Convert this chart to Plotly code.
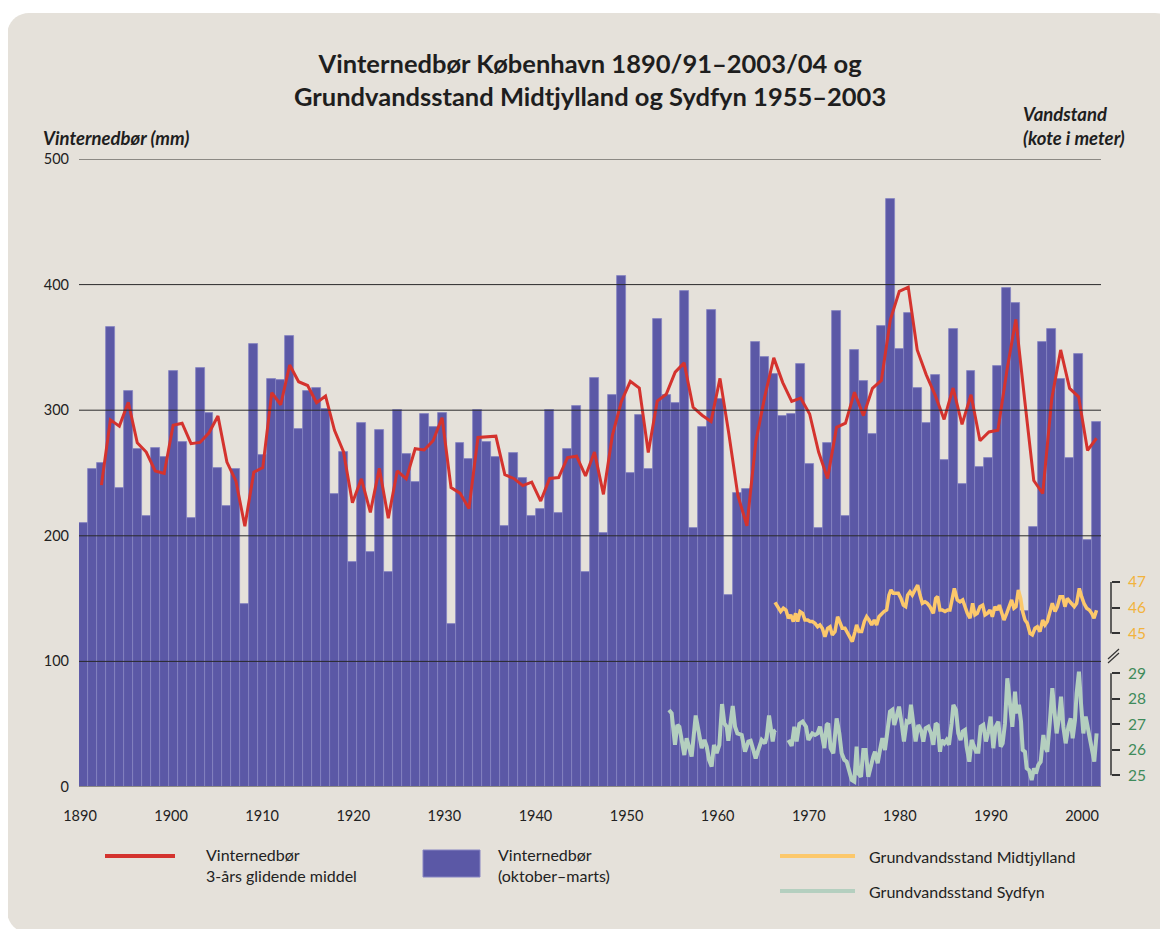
import plotly.graph_objects as go
import pandas as pd

# ---------------- data ----------------
years = list(range(1890, 2004))
precip_mm = [
    210, 253, 258, 366, 238, 315, 269, 216, 270, 263,   # 1890-1899
    331, 275, 214, 334, 298, 254, 224, 253, 146, 353,   # 1900-1909
    264, 325, 324, 359, 285, 315, 318, 301, 233, 267,   # 1910-1919
    179, 290, 187, 284, 171, 300, 265, 243, 297, 287,   # 1920-1929
    298, 130, 274, 261, 300, 275, 263, 208, 266, 246,   # 1930-1939
    216, 221, 300, 218, 269, 303, 171, 326, 202, 312,   # 1940-1949
    407, 250, 296, 253, 373, 312, 306, 395, 206, 287,   # 1950-1959
    380, 309, 153, 234, 237, 354, 342, 329, 295, 297,   # 1960-1969
    337, 257, 206, 274, 379, 216, 348, 323, 281, 367,   # 1970-1979
    468, 349, 377, 318, 290, 328, 260, 365, 241, 331,   # 1980-1989
    255, 262, 335, 397, 385, 140, 207, 354, 365, 325,   # 1990-1999
    262, 345, 197, 291,                                 # 2000-2003
]

x_ticks = list(range(1890, 2001, 10))
y_ticks = [0, 100, 200, 300, 400, 500]
mid_ticks = [45, 46, 47]
syd_ticks = [25, 26, 27, 28, 29]

mid_t = [1967.64, 1968.01, 1968.27, 1968.57, 1968.86, 1969.13, 1969.39, 1969.68, 1969.94, 1970.17,
         1970.43, 1970.72, 1970.98, 1971.28, 1971.54, 1971.80, 1972.10, 1972.39, 1972.65, 1972.91,
         1973.21, 1973.51, 1973.77, 1974.03, 1974.33, 1974.62, 1974.88, 1975.14, 1975.44, 1975.74,
         1976.00, 1976.26, 1976.56, 1976.74, 1977.00, 1977.30, 1977.60, 1977.86, 1978.12, 1978.42,
         1978.71, 1978.97, 1979.23, 1979.53, 1979.79, 1980.09, 1980.35, 1980.57, 1980.83, 1981.09,
         1981.39, 1981.69, 1981.95, 1982.21, 1982.43, 1982.69, 1982.95, 1983.25, 1983.55, 1983.81,
         1984.07, 1984.37, 1984.63, 1984.92, 1985.30, 1985.56, 1985.78, 1986.04, 1986.30, 1986.60,
         1986.89, 1987.15, 1987.34, 1987.64, 1987.97, 1988.27, 1988.57, 1988.83, 1989.09, 1989.39,
         1989.68, 1989.94, 1990.20, 1990.50, 1990.80, 1991.06, 1991.32, 1991.62, 1991.88, 1992.17,
         1992.43, 1992.66, 1992.92, 1993.18, 1993.48, 1993.77, 1994.03, 1994.29, 1994.52, 1994.78,
         1995.04, 1995.26, 1995.52, 1995.78, 1996.08, 1996.34, 1996.64, 1996.90, 1997.19, 1997.49,
         1997.75, 1998.01, 1998.31, 1998.57, 1998.87, 1999.13, 1999.43, 1999.72, 1999.98, 2000.24,
         2000.54, 2000.80, 2001.02, 2001.28, 2001.58, 2001.84, 2002.10, 2002.40, 2002.70, 2002.96,
         2003.22, 2003.50]
mid_level = [46.21, 46.01, 45.85, 45.98, 45.91, 45.59, 45.72, 45.46, 45.78, 45.46,
             45.85, 45.78, 45.52, 45.52, 45.46, 45.46, 45.39, 45.26, 45.33, 45.20,
             44.87, 45.20, 45.26, 44.94, 45.07, 45.65, 45.46, 45.20, 45.20, 45.00,
             44.81, 44.68, 45.07, 45.33, 45.07, 45.07, 45.46, 45.65, 45.52, 45.33,
             45.52, 45.33, 45.65, 45.78, 45.85, 45.91, 46.49, 46.69, 46.56, 46.56,
             46.56, 46.36, 46.10, 46.04, 46.49, 46.62, 46.49, 46.69, 46.88, 46.49,
             46.17, 46.23, 46.17, 46.04, 45.78, 46.36, 46.43, 45.91, 45.91, 45.85,
             45.91, 45.91, 46.30, 46.75, 46.30, 46.23, 46.30, 46.04, 45.78, 45.59,
             46.17, 45.72, 45.78, 46.04, 46.10, 45.72, 45.78, 45.91, 45.65, 46.04,
             45.91, 46.10, 45.85, 45.52, 45.78, 46.04, 46.30, 45.98, 46.04, 46.69,
             46.36, 45.85, 45.52, 45.39, 45.00, 44.94, 45.20, 45.26, 45.07, 45.52,
             45.33, 45.46, 45.91, 46.17, 45.85, 46.04, 46.43, 46.43, 46.04, 46.36,
             46.23, 46.10, 46.04, 46.17, 46.75, 46.43, 46.17, 45.98, 45.91, 45.78,
             45.59, 45.90]

syd_t = [1955.81, 1956.11, 1956.48, 1956.74, 1956.97, 1957.23, 1957.52, 1957.78, 1958.08, 1958.34,
         1958.79, 1959.09, 1959.46, 1959.76, 1960.02, 1960.28, 1960.57, 1960.83, 1961.13, 1961.43,
         1961.73, 1961.99, 1962.25, 1962.43, 1962.62, 1962.92, 1963.18, 1963.44, 1963.92, 1964.29,
         1964.66, 1964.92, 1965.22, 1965.48, 1965.78, 1966.15, 1966.52, 1966.71, 1966.97, 1967.19,
         1967.38, 1967.56, 1967.71, None,
         1969.13, 1969.50, 1969.79, 1970.05, 1970.35, 1970.72, 1971.10, 1971.36, 1971.80, 1972.10,
         1972.39, 1972.65, 1972.91, 1973.14, 1973.40, 1973.58, 1973.84, 1974.14, 1974.51, 1974.81,
         1975.07, 1975.37, 1975.63, 1975.89, 1976.19, 1976.48, 1976.74, 1976.93, 1977.23, 1977.49,
         1977.75, 1978.04, 1978.34, 1978.60, 1978.79, 1979.09, 1979.35, 1979.61, 1979.90, 1980.20,
         1980.46, 1980.72, 1980.94, 1981.20, 1981.47, 1981.76, 1982.02, 1982.32, 1982.58, 1982.80,
         1983.06, 1983.32, 1983.62, 1983.92, 1984.18, 1984.44, 1984.74, 1985.04, 1985.30, 1985.56,
         1985.78, 1986.04, 1986.22, 1986.52, 1986.78, 1987.04, 1987.34, 1987.53, 1987.82, 1988.08,
         1988.34, 1988.57, 1988.83, 1989.01, 1989.31, 1989.57, 1989.76, 1990.06, 1990.32, 1990.58,
         1990.87, 1991.17, 1991.43, 1991.69, 1991.99, 1992.25, 1992.55, 1992.81, 1993.03, 1993.29,
         1993.55, 1993.85, 1994.11, 1994.41, 1994.59, 1994.85, 1995.08, 1995.26, 1995.52, 1995.71,
         1995.97, 1996.27, 1996.52, 1996.75, 1997.01, 1997.27, 1997.57, 1997.75, 1998.01, 1998.31,
         1998.57, 1998.79, 1999.05, 1999.31, 1999.54, 1999.80, 2000.06, 2000.36, 2000.62, 2000.84,
         2001.10, 2001.28, 2001.54, 2001.77, 2002.03, 2002.29, 2002.51, 2002.77, 2003.03, 2003.25,
         2003.51]
syd_level = [27.56, 27.43, 26.19, 26.97, 26.90, 26.25, 25.79, 26.45, 26.12, 25.73,
             27.34, 26.77, 26.06, 26.38, 26.12, 25.60, 25.34, 26.19, 25.86, 26.19,
             27.79, 27.03, 26.90, 26.35, 26.90, 27.71, 26.90, 26.64, 26.58, 25.92,
             26.32, 26.35, 25.99, 25.66, 25.99, 26.38, 26.25, 26.51, 27.34, 26.77,
             26.32, 26.73, 26.77, None,
             26.38, 26.15, 26.90, 26.32, 27.01, 27.10, 26.90, 26.38, 26.64, 26.58,
             26.64, 26.90, 26.51, 26.06, 26.97, 27.03, 26.06, 25.86, 27.23, 26.64,
             25.86, 25.60, 25.53, 25.20, 24.81, 24.75, 26.12, 25.07, 24.94, 25.99,
             25.99, 24.94, 25.47, 25.73, 25.92, 25.47, 25.99, 26.45, 25.99, 26.77,
             27.49, 27.56, 26.97, 27.30, 27.69, 27.03, 26.32, 27.10, 27.03, 27.76,
             26.90, 26.32, 26.97, 26.77, 26.32, 26.84, 26.90, 26.64, 26.19, 27.03,
             26.97, 25.92, 26.38, 26.25, 26.38, 26.19, 27.03, 27.76, 27.56, 26.64,
             26.38, 26.71, 26.77, 26.12, 25.53, 26.38, 26.19, 25.92, 25.92, 26.90,
             26.97, 26.32, 26.71, 27.30, 26.06, 26.90, 27.10, 26.12, 26.25, 27.03,
             28.80, 27.56, 26.90, 28.28, 27.43, 27.76, 27.10, 25.99, 25.92, 25.27,
             25.20, 24.81, 25.27, 25.07, 25.40, 25.53, 26.58, 26.12, 25.92, 27.16,
             28.41, 27.56, 26.64, 27.23, 28.08, 26.90, 26.25, 26.90, 27.23, 26.45,
             27.16, 28.21, 29.06, 27.82, 26.64, 27.30, 26.90, 26.58, 26.12, 25.53,
             26.64]

# 3-year moving mean of the winter precipitation (plotted at the last winter of each window)
ma3 = pd.Series(precip_mm, index=years).rolling(3).mean()

# ---------------- geometry helpers (screen pixels; page body has an 8px margin) ----------------
OFF = 8
W, H = 1168 - OFF, 929 - OFF
ML, MR, MT, MB = 79 - OFF, 20, 159 - OFF, 142
PW = W - ML - MR
PH = H - MT - MB
BASE = 787  # screen y of the plot bottom


def fx(px):
    return (px - 79) / PW


def fy(py):
    return (BASE - py) / PH


XDOM = fx(1101)
RAX = fx(1111)

FONT = "Lato, 'Open Sans', sans-serif"
BAR_COL = "#5B58A6"
RED = "#D4332E"
MID_COL = "#FCC86B"
SYD_COL = "#B4CFBF"
PANEL = "#E5E1DA"

fig = go.Figure()

fig.add_trace(go.Bar(
    x=[y + 0.5 for y in years], y=precip_mm, width=1,
    marker=dict(color=BAR_COL, line=dict(color="#8784C2", width=0.8)),
    name="Vinternedbør (oktober–marts)", hoverinfo="x+y",
))
fig.add_trace(go.Scatter(
    x=[y + 0.5 for y in ma3.index], y=ma3.values, mode="lines",
    line=dict(color=RED, width=3), name="Vinternedbør 3-års glidende middel",
))
fig.add_trace(go.Scatter(
    x=mid_t, y=mid_level, yaxis="y2", mode="lines",
    line=dict(color=MID_COL, width=3.5), name="Grundvandsstand Midtjylland",
))
fig.add_trace(go.Scatter(
    x=syd_t, y=syd_level, yaxis="y3", mode="lines", connectgaps=False,
    line=dict(color=SYD_COL, width=4), name="Grundvandsstand Sydfyn",
))

shapes = []
# background panel with rounded corners
pl, pr, pt, pb, rr = 7, 1177, 13, 933, 22
k = 0.5523
X = lambda p: fx(p)
Y = lambda p: fy(p)
path = (
    f"M {X(pl)},{Y(pb - rr)} "
    f"L {X(pl)},{Y(pt + rr)} "
    f"C {X(pl)},{Y(pt + rr - k * rr)} {X(pl + rr - k * rr)},{Y(pt)} {X(pl + rr)},{Y(pt)} "
    f"L {X(pr - rr)},{Y(pt)} "
    f"C {X(pr - rr + k * rr)},{Y(pt)} {X(pr)},{Y(pt + rr - k * rr)} {X(pr)},{Y(pt + rr)} "
    f"L {X(pr)},{Y(pb - rr)} "
    f"C {X(pr)},{Y(pb - rr + k * rr)} {X(pr - rr + k * rr)},{Y(pb)} {X(pr - rr)},{Y(pb)} "
    f"L {X(pl + rr)},{Y(pb)} "
    f"C {X(pl + rr - k * rr)},{Y(pb)} {X(pl)},{Y(pb - rr + k * rr)} {X(pl)},{Y(pb - rr)} Z"
)
shapes.append(dict(type="path", xref="paper", yref="paper", layer="below",
                   path=path, fillcolor=PANEL, line=dict(width=0)))
# horizontal reference lines (drawn above the bars)
for v in y_ticks:
    edge = v in (0, 500)
    shapes.append(dict(
        type="line", xref="paper", yref="y", x0=0, x1=XDOM, y0=v, y1=v,
        line=dict(color="#8C8984" if edge else "#2A2A2A", width=2 if edge else 1),
        layer="above",
    ))
# brackets of the two water-level scales
shapes.append(dict(type="line", xref="paper", yref="y2", x0=RAX, x1=RAX,
                   y0=min(mid_ticks), y1=max(mid_ticks),
                   line=dict(color="#333333", width=1.5)))
shapes.append(dict(type="line", xref="paper", yref="y3", x0=RAX, x1=RAX,
                   y0=min(syd_ticks), y1=max(syd_ticks),
                   line=dict(color="#333333", width=1.5)))
# axis break mark
for dy in (0, 4):
    shapes.append(dict(type="line", xref="paper", yref="paper",
                       x0=fx(1108), y0=fy(659 + dy), x1=fx(1119), y1=fy(649 + dy),
                       line=dict(color="#333333", width=1.2)))
# legend symbols
LY1, LY2 = 856, 891
shapes.append(dict(type="line", xref="paper", yref="paper", x0=fx(105), x1=fx(175),
                   y0=fy(LY1), y1=fy(LY1), line=dict(color=RED, width=4)))
shapes.append(dict(type="rect", xref="paper", yref="paper", x0=fx(423), x1=fx(480),
                   y0=fy(850), y1=fy(877), fillcolor=BAR_COL,
                   line=dict(color="#8784C2", width=1)))
shapes.append(dict(type="line", xref="paper", yref="paper", x0=fx(780), x1=fx(855),
                   y0=fy(LY1), y1=fy(LY1), line=dict(color=MID_COL, width=4)))
shapes.append(dict(type="line", xref="paper", yref="paper", x0=fx(780), x1=fx(855),
                   y0=fy(LY2), y1=fy(LY2), line=dict(color=SYD_COL, width=4)))

ann = []
ann.append(dict(
    xref="paper", yref="paper", x=fx(590), y=fy(79), xanchor="center", yanchor="middle",
    text="<b>Vinternedbør København 1890/91–2003/04 og<br>"
         "Grundvandsstand Midtjylland og Sydfyn 1955–2003</b>",
    showarrow=False, font=dict(family=FONT, size=25.5, color="#1E1E1E"),
))
ann.append(dict(xref="paper", yref="paper", x=fx(41), y=fy(138), xanchor="left",
                yanchor="middle", text="<b><i>Vinternedbør (mm)</i></b>", showarrow=False,
                font=dict(family=FONT, size=18.5, color="#1E1E1E")))
ann.append(dict(xref="paper", yref="paper", x=fx(1021), y=fy(126), xanchor="left",
                yanchor="middle", align="left",
                text="<b><i>Vandstand<br>(kote i meter)</i></b>", showarrow=False,
                font=dict(family=FONT, size=18.5, color="#1E1E1E")))
LF = dict(family=FONT, size=16, color="#222222")
ann.append(dict(xref="paper", yref="paper", x=fx(204), y=fy(865), xanchor="left",
                yanchor="middle", align="left",
                text="Vinternedbør<br>3-års glidende middel", showarrow=False, font=LF))
ann.append(dict(xref="paper", yref="paper", x=fx(496), y=fy(865), xanchor="left",
                yanchor="middle", align="left",
                text="Vinternedbør<br>(oktober–marts)", showarrow=False, font=LF))
ann.append(dict(xref="paper", yref="paper", x=fx(867), y=fy(LY1), xanchor="left",
                yanchor="middle", text="Grundvandsstand Midtjylland", showarrow=False, font=LF))
ann.append(dict(xref="paper", yref="paper", x=fx(867), y=fy(LY2), xanchor="left",
                yanchor="middle", text="Grundvandsstand Sydfyn", showarrow=False, font=LF))

TF = dict(family=FONT, size=14.5, color="#222222")
# the year labels of the original sit on a slightly wider spacing than the bars
bar_px = (1101 - 79) / 114.0
lab_px = (1082 - 80) / 110.0
x_tick_pos = [1890 + (80 - 79 + (t - 1890) * lab_px) / bar_px for t in x_ticks]

fig.update_layout(
    width=W, height=H,
    margin=dict(l=ML, r=MR, t=MT, b=MB, pad=0),
    paper_bgcolor="white", plot_bgcolor="rgba(0,0,0,0)",
    showlegend=False, bargap=0,
    font=dict(family=FONT, color="#222222"),
    xaxis=dict(domain=[0, XDOM], range=[1890, 2004], tickvals=x_tick_pos,
               ticktext=[str(t) for t in x_ticks], showgrid=False, zeroline=False,
               showline=False, ticks="", tickfont=TF, ticklabelstandoff=18),
    yaxis=dict(range=[0, 500], tickvals=y_ticks, showgrid=False, zeroline=False,
               showline=False, ticks="", tickfont=TF, ticklabelstandoff=9),
    yaxis2=dict(overlaying="y", anchor="free", position=RAX, side="right",
                range=[39.023, 63.459], tickvals=mid_ticks, showgrid=False,
                zeroline=False, showline=False, ticks="outside", ticklen=8,
                tickwidth=1.5, tickcolor="#333333", ticklabelstandoff=5,
                tickfont=dict(family=FONT, size=15.5, color="#F2B33D")),
    yaxis3=dict(overlaying="y", anchor="free", position=RAX, side="right",
                range=[24.537, 49.165], tickvals=syd_ticks, showgrid=False,
                zeroline=False, showline=False, ticks="outside", ticklen=8,
                tickwidth=1.5, tickcolor="#333333", ticklabelstandoff=5,
                tickfont=dict(family=FONT, size=15.5, color="#3F8B5B")),
    shapes=shapes, annotations=ann,
)

fig.write_html("out.html")
